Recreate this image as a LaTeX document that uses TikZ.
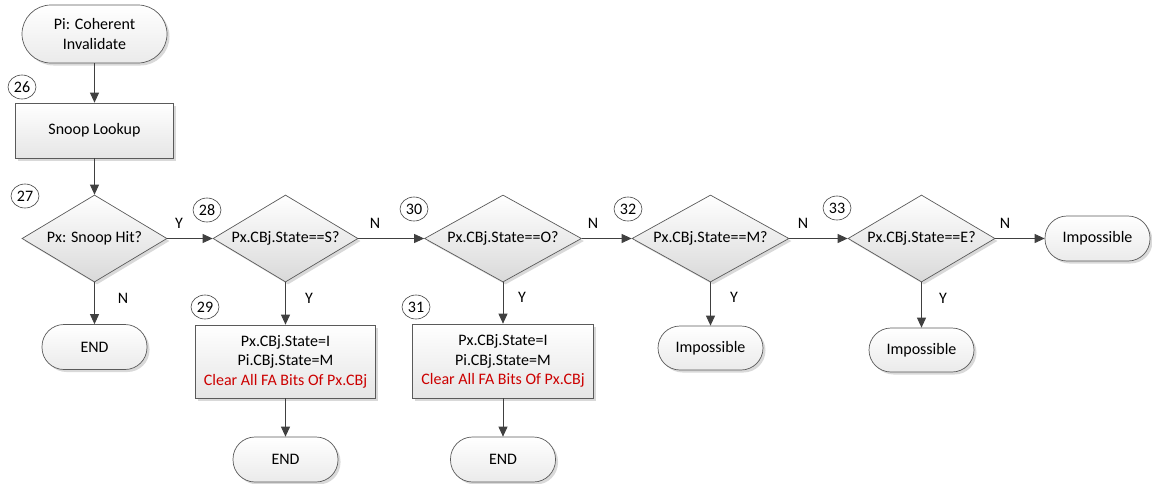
\documentclass[tikz,border=0pt]{standalone}
\usepackage{fontspec}
\setmainfont{Carlito}
\usetikzlibrary{shapes.geometric,shadows,arrows.meta}
\definecolor{edgegray}{RGB}{64,64,64}
\definecolor{linegray}{RGB}{90,90,90}
\definecolor{warnred}{RGB}{204,0,0}
\begin{document}
\begin{tikzpicture}[x=1pt,y=-1pt,
  font=\fontsize{16}{19.5}\selectfont,
  box/.style={draw=linegray, line width=0.7pt, top color=white, bottom color=black!10,
    drop shadow={shadow xshift=2.5pt, shadow yshift=-2.5pt, fill=black!15, opacity=1},
    inner sep=0pt, align=center},
  procbox/.style={box, rectangle},
  termbox/.style={box, rectangle, rounded corners=22pt, minimum height=45pt, minimum width=105pt,
    bottom color=black!8},
  decision/.style={box, diamond, aspect=1.8, minimum height=87pt, bottom color=black!15},
  stepnum/.style={draw=edgegray, line width=0.6pt, fill=white, ellipse, inner sep=0pt,
    minimum width=28pt, minimum height=24pt},
  lab/.style={inner sep=0pt},
  flow/.style={draw=edgegray, line width=0.9pt, -{Triangle[length=10pt,width=9pt]}}]

\useasboundingbox (0,0) rectangle (1152,483);

% start and first column
\node[termbox, rounded corners=29pt, minimum width=145pt, minimum height=58pt] (start) at (94.5,34) {Pi: Coherent\\Invalidate};
\node[procbox, minimum width=158pt, minimum height=55pt] (snoop) at (94.5,130.5) {Snoop Lookup};
\node[decision, minimum width=145pt] (d27) at (94.5,238.5) {Px: Snoop Hit?};
\node[termbox] (end1) at (94.5,347) {END};

% decision chain
\node[decision, minimum width=145pt] (d28) at (285.5,238.5) {Px.CBj.State==S?};
\node[decision, minimum width=157pt] (d30) at (503,238.5) {Px.CBj.State==O?};
\node[decision, minimum width=157pt] (d32) at (710.5,238.5) {Px.CBj.State==M?};
\node[decision, minimum width=147pt] (d33) at (921.5,238.5) {Px.CBj.State==E?};
\node[termbox] (imp3) at (1097.5,238.5) {Impossible};

% outcomes
\node[procbox, minimum width=180pt, minimum height=73pt] (r29) at (285.5,361.5)
  {Px.CBj.State=I\\Pi.CBj.State=M\\\textcolor{warnred}{Clear All FA Bits Of Px.CBj}};
\node[termbox] (end2) at (285.5,459.5) {END};
\node[procbox, minimum width=181pt, minimum height=74pt] (r31) at (503,361)
  {Px.CBj.State=I\\Pi.CBj.State=M\\\textcolor{warnred}{Clear All FA Bits Of Px.CBj}};
\node[termbox] (end3) at (503,459.5) {END};
\node[termbox, minimum height=44pt] (imp1) at (710.5,348) {Impossible};
\node[termbox, minimum height=44pt] (imp2) at (921.5,350) {Impossible};

% step numbers
\node[stepnum] (n26) at (22,87) {26};
\node[stepnum] (n27) at (25,196) {27};
\node[stepnum] (n28) at (207,210) {28};
\node[stepnum] (n29) at (205,307) {29};
\node[stepnum] (n30) at (414,209) {30};
\node[stepnum] (n31) at (416,307) {31};
\node[stepnum] (n32) at (628,209) {32};
\node[stepnum] (n33) at (837,208) {33};

% connectors
\draw[flow] (start) -- (snoop);
\draw[flow] (snoop) -- (d27);
\draw[flow] (d27) -- (end1);
\draw[flow] (d27) -- (d28);
\draw[flow] (d28) -- (d30);
\draw[flow] (d28) -- (r29);
\draw[flow] (r29) -- (end2);
\draw[flow] (d30) -- (d32);
\draw[flow] (d30) -- (r31);
\draw[flow] (r31) -- (end3);
\draw[flow] (d32) -- (d33);
\draw[flow] (d32) -- (imp1);
\draw[flow] (d33) -- (imp3);
\draw[flow] (d33) -- (imp2);

% branch labels
\node[lab] (y27) at (179,223) {Y};
\node[lab] (no27) at (123,298) {N};
\node[lab] (no28) at (375,223) {N};
\node[lab] (y28) at (309,298) {Y};
\node[lab] (no30) at (593,223) {N};
\node[lab] (y30) at (522,297) {Y};
\node[lab] (no32) at (803,223) {N};
\node[lab] (y32) at (734,297) {Y};
\node[lab] (no33) at (1005,223) {N};
\node[lab] (y33) at (943,298) {Y};
\end{tikzpicture}
\end{document}
